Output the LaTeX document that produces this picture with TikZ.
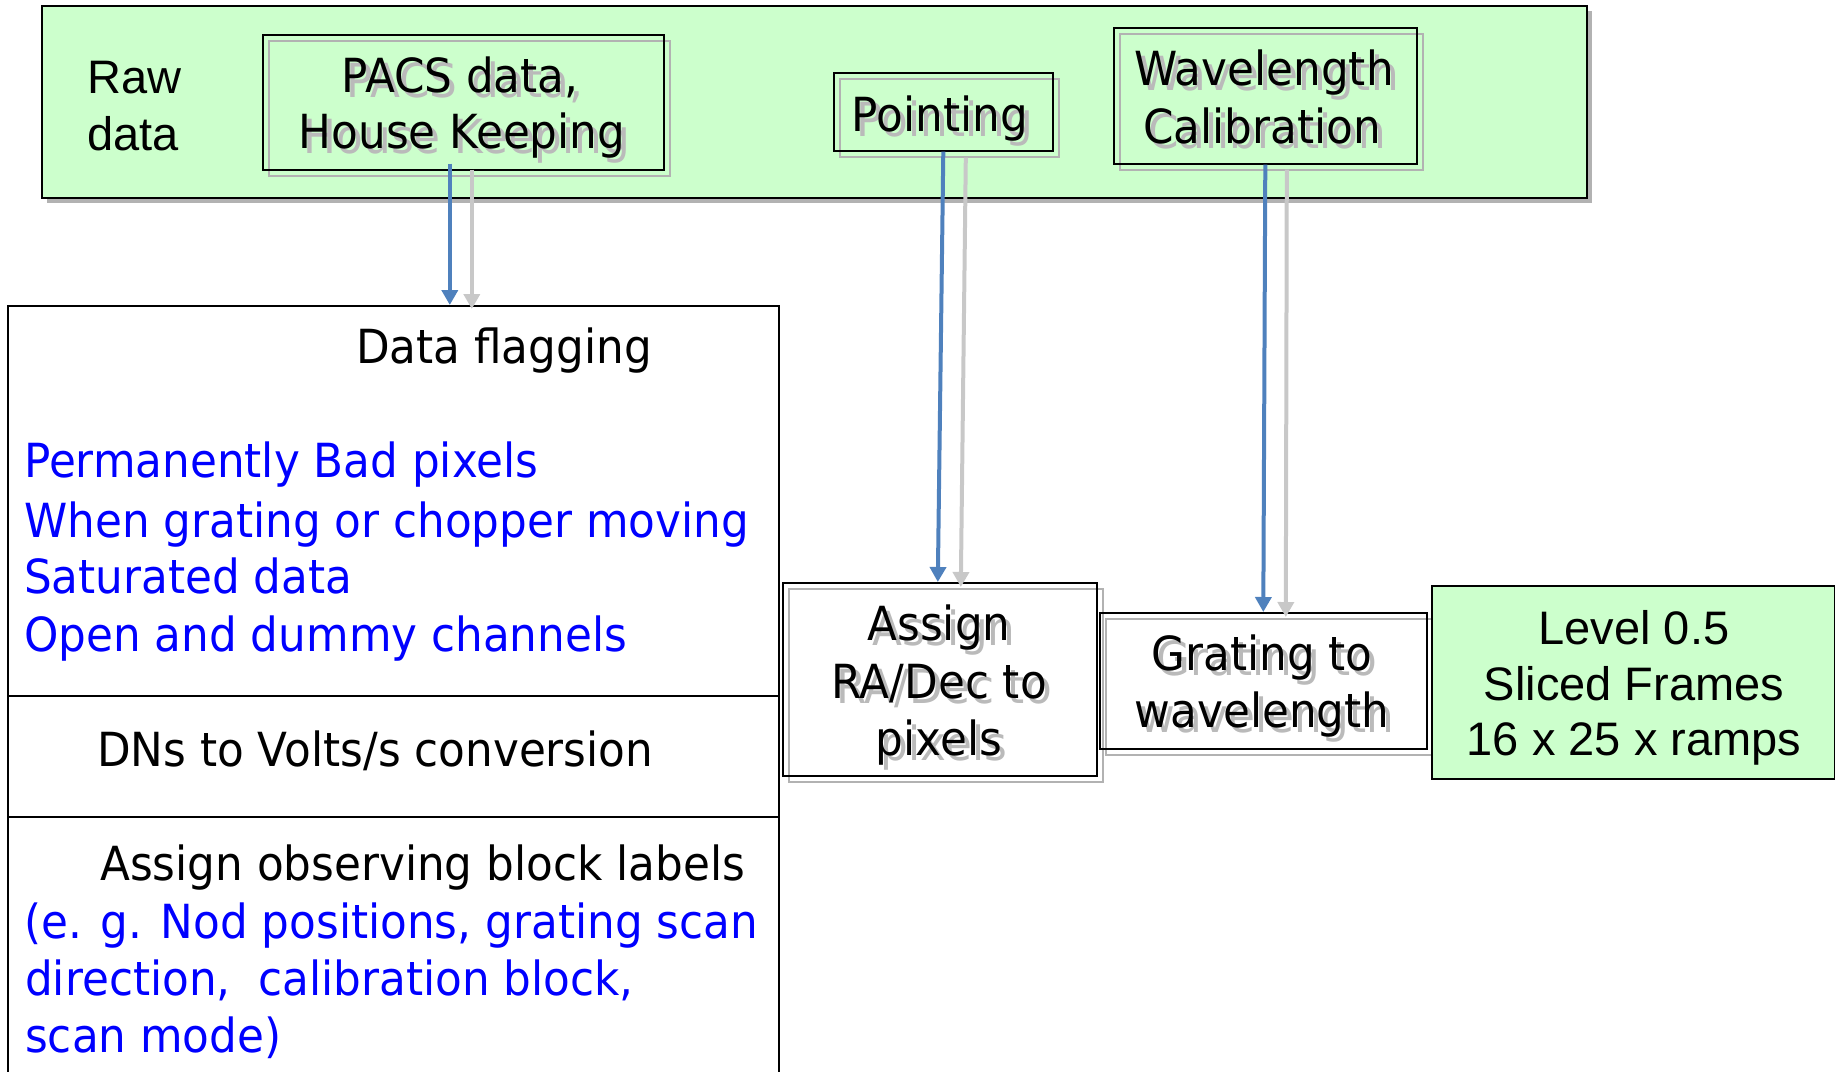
\documentclass[tikz,border=0pt]{standalone}
\usepackage{fontspec}
\setmainfont{Liberation Sans}
\newfontfamily\comic[FakeStretch=0.93]{DejaVu Sans}
\usetikzlibrary{calc,arrows.meta,shadows}
\definecolor{lgreen}{HTML}{CCFFCC}
\definecolor{arrblue}{HTML}{4F81BD}
\definecolor{shgray}{HTML}{B2B2B2}
\definecolor{tshadow}{HTML}{BABABA}
\definecolor{ashadow}{HTML}{C8C8C8}
\definecolor{txtblue}{HTML}{0000FF}
\newcommand{\cfont}{\comic\fontsize{47pt}{56pt}\selectfont}
\newcommand{\afont}{\fontsize{47pt}{56pt}\selectfont}
\newcommand{\shtxt}[1]{\makebox[0pt][l]{\hspace{5pt}\raisebox{-5pt}{\textcolor{tshadow}{#1}}}#1}
\begin{document}
\begin{tikzpicture}[x=1pt,y=-1pt,
  frame/.style={draw=black, line width=1.6pt, inner sep=0pt, anchor=north west},
  greenbox/.style={frame, fill=lgreen},
  topbox/.style={greenbox, general shadow={shadow xshift=5pt, shadow yshift=-5pt, fill=shgray, draw=none}},
  sframe/.style={frame, general shadow={shadow xshift=6pt, shadow yshift=-6pt, draw=shgray, line width=1.6pt, fill=none}},
  ctext/.style={inner sep=0pt, anchor=base, font=\cfont},
  cleft/.style={ctext, anchor=base west},
  btext/.style={cleft, text=txtblue},
  atext/.style={inner sep=0pt, anchor=base, font=\afont},
  barrow/.style={draw=arrblue, line width=4pt, -{Triangle[length=15pt,width=16pt]}},
  garrow/.style={draw=ashadow, line width=4pt, -{Triangle[length=15pt,width=16pt]}}
]
\useasboundingbox (0,0) rectangle (1835,1071);

% top band
\node[topbox, minimum width=1545pt, minimum height=192pt] (raw) at (41,5) {};
\node[atext, anchor=base west] (rawA) at (87,93) {Raw};
\node[atext, anchor=base west] (rawB) at (87,150) {data};

\node[sframe, minimum width=401pt, minimum height=135pt] (pacs) at (262,34) {};
\node[ctext] (pacsA) at (460,92) {\shtxt{PACS data,}};
\node[ctext] (pacsB) at (462,148) {\shtxt{House Keeping}};

\node[sframe, minimum width=219pt, minimum height=78pt] (point) at (833,72) {};
\node[ctext] (pointA) at (940,131) {\shtxt{Pointing}};

\node[sframe, minimum width=303pt, minimum height=136pt] (wave) at (1113,27) {};
\node[ctext] (waveA) at (1264,85) {\shtxt{Wavelength}};
\node[ctext] (waveB) at (1262,143) {\shtxt{Calibration}};

% lower boxes
\node[frame, minimum width=771pt, minimum height=790pt] (flag) at (7,305) {};
\draw[line width=1.6pt] ($(flag.north west)+(0,391)$) -- ($(flag.north east)+(0,391)$);
\draw[line width=1.6pt] ($(flag.north west)+(0,512)$) -- ($(flag.north east)+(0,512)$);
\node[cleft] (flagT) at (356,363) {Data flagging};
\node[btext] (flag1) at (24,477) {Permanently Bad pixels};
\node[btext] (flag2) at (24,537) {When grating or chopper moving};
\node[btext] (flag3) at (24,593) {Saturated data};
\node[btext] (flag4) at (24,651) {Open and dummy channels};
\node[cleft] (dnT) at (97,766) {DNs to Volts/s conversion};
\node[cleft] (obsT) at (100,880) {Assign observing block labels};
\node[btext] (obs1) at (24,938) {(e. g. Nod positions, grating scan};
\node[btext] (obs2) at (25,995) {direction,\ \ calibration block,};
\node[btext] (obs3) at (25,1052) {scan mode)};

\node[sframe, minimum width=314pt, minimum height=193pt] (assign) at (782,582) {};
\node[ctext] (assignA) at (939,640) {\shtxt{Assign}};
\node[ctext] (assignB) at (939,698) {\shtxt{RA/Dec to}};
\node[ctext] (assignC) at (939,755) {\shtxt{pixels}};

\node[sframe, minimum width=327pt, minimum height=136pt] (grat) at (1099,612) {};
\node[ctext] (gratA) at (1262,670) {\shtxt{Grating to}};
\node[ctext] (gratB) at (1262,727) {\shtxt{wavelength}};

\node[greenbox, minimum width=403pt, minimum height=193pt] (level) at (1431,585) {};
\node[atext] (levelA) at (1634,644) {Level 0.5};
\node[atext] (levelB) at (1634,700) {Sliced Frames};
\node[atext] (levelC) at (1634,755) {16 x 25 x ramps};

% arrows
\draw[garrow] ($(pacs.south)+(8.5,-1)$) -- ($(pacs.south |- flag.north)+(8.5,4)$);
\draw[barrow] ($(pacs.south)+(-13.5,-7)$) -- ($(pacs.south |- flag.north)+(-13.5,0)$);
\draw[garrow] ($(point.south)+(22.5,6)$) -- ($(assign.north)+(21,5)$);
\draw[barrow] (point.south) -- ($(assign.north)+(-2,0)$);
\draw[garrow] ($(wave.south)+(21.5,5)$) -- ($(grat.north)+(22.5,5)$);
\draw[barrow] (wave.south) -- (grat.north);
\end{tikzpicture}
\end{document}
